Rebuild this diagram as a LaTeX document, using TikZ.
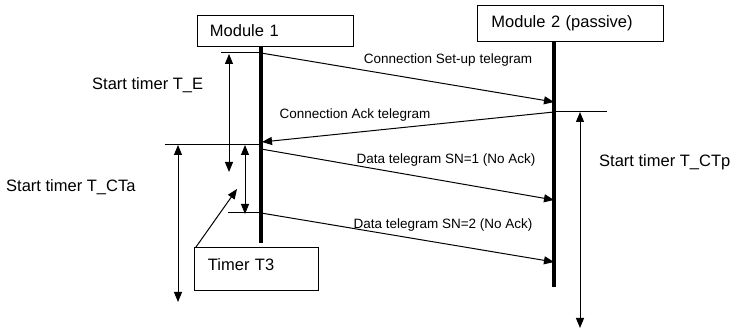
\documentclass[tikz,border=0pt]{standalone}
\usepackage{fontspec}
\setmainfont{Liberation Sans}
\usetikzlibrary{arrows.meta}
\tikzset{
  box/.style={draw, line width=0.9pt, align=left, inner ysep=0pt, anchor=north west},
  bigtxt/.style={font=\fontsize{16.5}{19}\selectfont},
  smalltxt/.style={font=\fontsize{13.5}{16}\selectfont, inner sep=0pt},
  lifeline/.style={line width=3.6pt},
  thin/.style={line width=1pt},
  msg/.style={line width=1pt, -{Triangle[length=10pt,width=8pt]}},
  span/.style={line width=1pt, {Triangle[length=10pt,width=8pt]}-{Triangle[length=10pt,width=8pt]}},
}
\begin{document}
\begin{tikzpicture}[x=1pt, y=-1pt]
  \useasboundingbox (0,0) rectangle (739,336);

  % participants
  \node[box, bigtxt, text width=131pt, inner xsep=12.5pt, minimum height=31pt] (m1) at (197,15) {Module 1};
  \node[box, bigtxt, text width=158pt, inner xsep=14pt, minimum height=36pt] (m2) at (477,5) {Module 2 (passive)};
  \node[box, bigtxt, text width=97pt, inner xsep=13.5pt, minimum height=43pt, text depth=8pt] (t3) at (194,247) {Timer T3};

  % lifelines
  \coordinate (l1top) at (261,46);
  \coordinate (l1bot) at (261,243);
  \coordinate (l2top) at (554,41);
  \coordinate (l2bot) at (554,287);
  \draw[lifeline] (l1top) -- (l1bot);
  \draw[lifeline] (l2top) -- (l2bot);

  % message end points on the lifelines
  \coordinate (a1) at (261,53);
  \coordinate (b1) at (554,102);
  \coordinate (b2) at (554,112);
  \coordinate (a2) at (262,142);
  \coordinate (a3) at (261,149);
  \coordinate (b3) at (554,200);
  \coordinate (a4) at (261,213);
  \coordinate (b4) at (554,262);

  % messages
  \draw[msg] (a1) -- (b1);
  \draw[msg] (b2) -- (a2);
  \draw[msg] (a3) -- (b3);
  \draw[msg] (a4) -- (b4);

  \node[smalltxt] (lab1) at (448,60) {Connection Set-up telegram};
  \node[smalltxt] (lab2) at (355,115) {Connection Ack telegram};
  \node[smalltxt] (lab3) at (446,160) {Data telegram SN=1 (No Ack)};
  \node[smalltxt] (lab4) at (443,225) {Data telegram SN=2 (No Ack)};

  % timer start marks
  \coordinate (h1) at (221,53);
  \coordinate (h2) at (607,112);
  \coordinate (h3a) at (165,145);
  \coordinate (h3b) at (261,145);
  \coordinate (h4) at (228,213);
  \draw[thin] (h1) -- (a1);
  \draw[thin] (b2) -- (h2);
  \draw[thin] (h3a) -- (h3b);
  \draw[thin] (h4) -- (a4);

  % timer spans
  \coordinate (te1) at (229,54);
  \coordinate (te2) at (229,172);
  \coordinate (t31) at (245,145);
  \coordinate (t32) at (245,214);
  \coordinate (ta1) at (178,145);
  \coordinate (ta2) at (178,302);
  \coordinate (tp1) at (580,112);
  \coordinate (tp2) at (580,328);
  \draw[span] (te1) -- (te2);
  \draw[span] (t31) -- (t32);
  \draw[span] (ta1) -- (ta2);
  \draw[span] (tp1) -- (tp2);

  % pointer from the T3 box to its span
  \coordinate (t3tip) at (237,189);
  \draw[msg] (t3.north west) ++(2,0) coordinate (t3p) -- (t3tip);

  % timer labels
  \node[bigtxt, inner sep=0pt, anchor=west] (lte) at (92,85) {Start timer T\_E};
  \node[bigtxt, inner sep=0pt, anchor=west] (lta) at (6,187) {Start timer T\_CTa};
  \node[bigtxt, inner sep=0pt, anchor=west] (ltp) at (599,162) {Start timer T\_CTp};
\end{tikzpicture}
\end{document}
